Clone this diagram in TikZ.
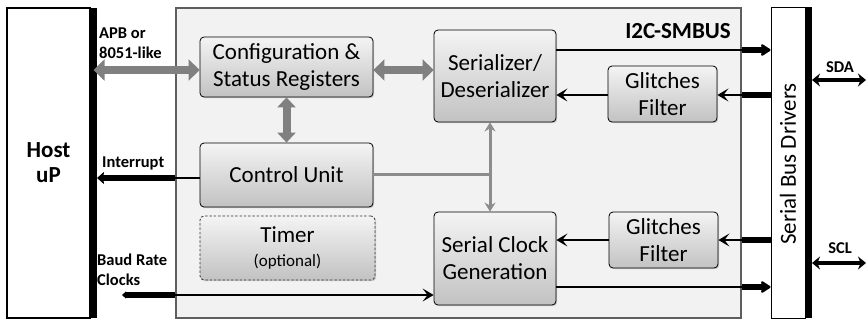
\documentclass[tikz,border=0pt]{standalone}
\usepackage{fontspec}
\setmainfont{Carlito}
\usetikzlibrary{arrows.meta,shadows,calc}
\definecolor{bgfill}{HTML}{F2F2F2}
\definecolor{bgline}{HTML}{5E5E5E}
\definecolor{shtop}{HTML}{F4F4F4}
\definecolor{shbot}{HTML}{C2C2C2}
\definecolor{agray}{HTML}{808080}
\definecolor{tgray}{HTML}{8C8C8C}
\begin{document}
\begin{tikzpicture}[x=1pt,y=-1pt,
  blk/.style={draw=black, line width=0.8pt, rounded corners=4pt, top color=shtop, bottom color=shbot,
    align=center, font=\fontsize{23}{27}\selectfont, inner sep=0pt,
    drop shadow={shadow xshift=1.2pt,shadow yshift=-1.2pt,opacity=0.35}},
  dashblk/.style={blk, draw=black!80, dash pattern=on 2.5pt off 1.8pt},
  plain/.style={draw=black, line width=1pt, fill=white, inner sep=0pt},
  lbl/.style={font=\bfseries\fontsize{16.5}{20}\selectfont, inner sep=0pt, align=left},
  graydbl/.style={draw=agray, line width=8pt, {Triangle[width=21pt,length=11pt]}-{Triangle[width=21pt,length=11pt]}},
  grayvdbl/.style={draw=agray, line width=8pt, {Triangle[width=18pt,length=10pt]}-{Triangle[width=18pt,length=10pt]}},
  graythin/.style={draw=tgray, line width=3pt},
  thinblk/.style={draw=black, line width=2.8pt},
  thickblk/.style={draw=black, line width=5.5pt},
  barb/.style={-{Stealth[length=11pt,width=13pt,inset=5pt]}},
  fat/.style={-{Stealth[length=11pt,width=14pt,inset=2pt,round]}},
]
\useasboundingbox (0,0) rectangle (866,322);

% containers
\node[plain, minimum width=83pt, minimum height=310pt, line width=1.2pt] (host) at (48.5,163) {};
\draw[line width=7pt] (93.5,8) -- (93.5,318);
\node[font=\bfseries\fontsize{23}{25}\selectfont, align=center, inner sep=0pt] (hosttxt) at (host.center) {Host\\uP};

\node[draw=bgline, line width=2pt, fill=bgfill, minimum width=565pt, minimum height=310pt, inner sep=0pt] (big) at (458.5,163) {};
\node[font=\bfseries\fontsize{23}{25}\selectfont, anchor=east, inner sep=0pt] (title) at (731,31) {I2C-SMBUS};

\node[plain, minimum width=34pt, minimum height=311pt] (drivers) at (788,162.5) {};
\draw[line width=7pt] (808.5,7) -- (808.5,318);
\node[rotate=90, font=\fontsize{23}{25}\selectfont, inner sep=0pt] (drvtxt) at (788,164) {Serial Bus Drivers};

% blocks
\node[blk, minimum width=173pt, minimum height=60pt] (config) at (286.5,67) {Configuration \&\\Status Registers};
\node[blk, minimum width=173pt, minimum height=64pt] (control) at (286.5,175) {Control Unit};
\node[dashblk, minimum width=175pt, minimum height=64pt] (timer) at (287.5,248) {Timer\\[-3pt]{\fontsize{17}{20}\selectfont(optional)}};
\node[blk, minimum width=122pt, minimum height=92pt] (ser) at (495,76) {Serializer/\\Deserializer};
\node[blk, minimum width=122pt, minimum height=93pt] (scg) at (495,258.5) {Serial Clock\\Generation};
\node[blk, minimum width=109pt, minimum height=56pt] (gf1) at (662.5,94) {Glitches\\Filter};
\node[blk, minimum width=109pt, minimum height=56pt] (gf2) at (663.5,240) {Glitches\\Filter};

% y levels
\coordinate (l70) at (0,70);
\coordinate (l50) at (0,50);
\coordinate (l95) at (0,95);
\coordinate (l178) at (0,178);
\coordinate (l174) at (0,174);
\coordinate (l295) at (0,295);
\coordinate (l240) at (0,240);
\coordinate (l287) at (0,287);
\coordinate (l80) at (0,80);
\coordinate (l263) at (0,263);
\coordinate (hostR) at (97,178);
\coordinate (baudL) at (122,295);
\coordinate (drvR) at (812,0);
\coordinate (edgeR) at (866,0);
\coordinate (vx) at (490,0);

% gray buses
\draw[graydbl] ($(host.east |- l70)+(3,0)$) -- (config.west |- l70);
\draw[graydbl] (config.east |- l70) -- (ser.west |- l70);
\draw[grayvdbl] (config.south) -- (control.north);
\draw[graythin] (control.east |- l174) -- (vx |- l174);
\draw[graythin, {Stealth[length=9pt,width=11pt,inset=3pt]}-{Stealth[length=9pt,width=11pt,inset=3pt]}] (vx |- ser.south) -- (vx |- scg.north);

% interrupt
\draw[thinblk] (control.west |- l178) -- (big.west |- l178);
\draw[thickblk, -{Stealth[length=7pt,width=12pt,inset=1pt]}] (big.west |- l178) -- (hostR);

% baud rate clocks
\draw[thickblk, {Stealth[length=4pt,width=7pt]}-] (baudL) -- (big.west |- l295);
\draw[thinblk, barb] (big.west |- l295) -- (scg.west |- l295);

% serializer side
\draw[thinblk] (ser.east |- l50) -- (big.east |- l50);
\draw[thickblk, fat] (big.east |- l50) -- (drivers.west |- l50);
\draw[thickblk] (drivers.west |- l95) -- (big.east |- l95);
\draw[thinblk, barb] (big.east |- l95) -- (gf1.east |- l95);
\draw[thinblk, barb] (gf1.west |- l95) -- (ser.east |- l95);

% clock side
\draw[thickblk] (drivers.west |- l240) -- (big.east |- l240);
\draw[thinblk, barb] (big.east |- l240) -- (gf2.east |- l240);
\draw[thinblk, barb] (gf2.west |- l240) -- (scg.east |- l240);
\draw[thinblk] (scg.east |- l287) -- (big.east |- l287);
\draw[thickblk, fat] (big.east |- l287) -- (drivers.west |- l287);

% external pins
\draw[draw=black, line width=4pt, {Stealth[length=8pt,width=13pt]}-{Stealth[length=8pt,width=13pt]}] (drvR |- l80) -- (edgeR |- l80);
\draw[draw=black, line width=4pt, {Stealth[length=8pt,width=13pt]}-{Stealth[length=8pt,width=13pt]}] (drvR |- l263) -- (edgeR |- l263);

% labels
\node[lbl, anchor=west] (apb) at (99,43) {APB or\\8051-like};
\node[lbl, anchor=west] (intl) at (102,163) {Interrupt};
\node[lbl, anchor=west] (baud) at (97,270) {Baud Rate\\Clocks};
\node[lbl] (sda) at (840,67) {SDA};
\node[lbl] (scl) at (840,248) {SCL};
\end{tikzpicture}
\end{document}
